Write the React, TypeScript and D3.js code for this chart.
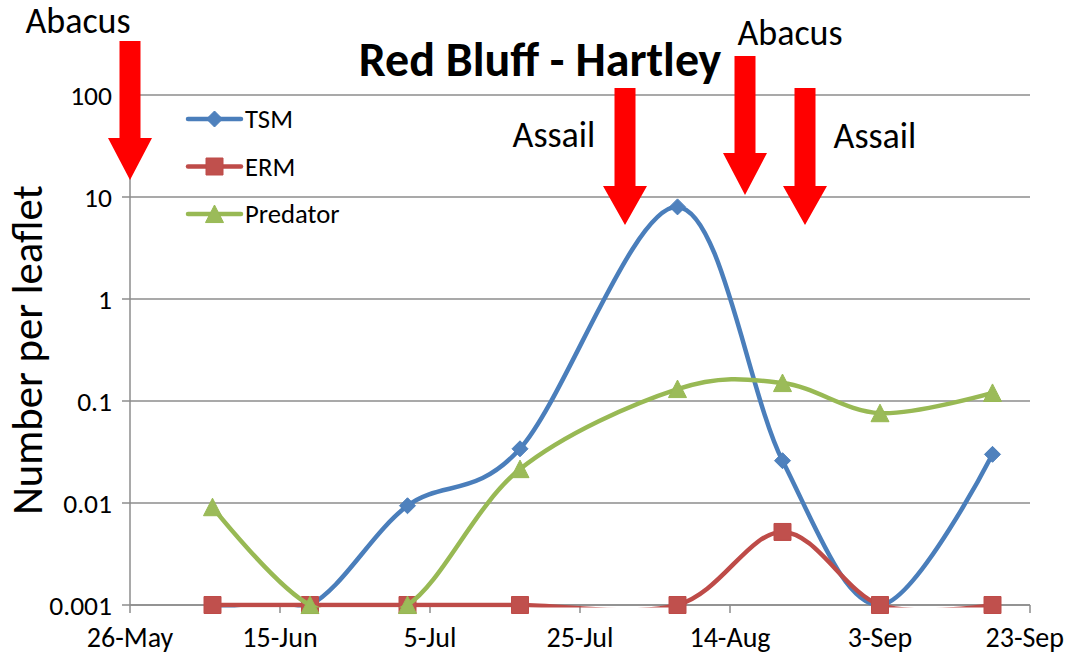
import React from "react";
import * as d3 from "d3";

const sampleDates = ["2012-06-06", "2012-06-19", "2012-07-02", "2012-07-17", "2012-08-07", "2012-08-21", "2012-09-03", "2012-09-18"];
const tsmValues = [0.001, 0.001, 0.0094, 0.034, 8.0, 0.026, 0.001, 0.030];
const ermValues = [0.001, 0.001, 0.001, 0.001, 0.001, 0.0052, 0.001, 0.001];
const predatorValues = [0.0091, 0.001, 0.001, 0.0215, 0.131, 0.15, 0.076, 0.12];
const xTickLabels = ["26-May", "15-Jun", "5-Jul", "25-Jul", "14-Aug", "3-Sep", "23-Sep"];
const xTickDates = ["2012-05-26", "2012-06-15", "2012-07-05", "2012-07-25", "2012-08-14", "2012-09-03", "2012-09-23"];
const yTickValues = [0.001, 0.01, 0.1, 1, 10, 100];
const yTickLabels = ["0.001", "0.01", "0.1", "1", "10", "100"];
const sprayLabels = ["Abacus", "Assail", "Abacus", "Assail"];
const sprayDates = ["2012-05-26", "2012-07-31", "2012-08-16", "2012-08-24"];

const W = 1066, H = 656;
const FONT = "Carlito, Calibri, Lato, sans-serif";

const series = [
  { name: "TSM", values: tsmValues, line: "#4A7EBB", fill: "#4F81BD", marker: "diamond" },
  { name: "ERM", values: ermValues, line: "#BE4B48", fill: "#C0504D", marker: "square" },
  { name: "Predator", values: predatorValues, line: "#98B954", fill: "#9BBB59", marker: "triangle" },
];

// arrow geometry (pixels): shaft top, head start, tip, and label placement
const arrowGeom = [
  { top: 41, head: 138, tip: 180, lx: 78, ly: 33 },
  { top: 88, head: 186, tip: 225, lx: 554, ly: 147 },
  { top: 56, head: 153, tip: 195, lx: 790, ly: 45 },
  { top: 88, head: 186, tip: 225, lx: 875, ly: 148 },
];

function markerPath(kind: string, cx: number, cy: number) {
  if (kind === "diamond") {
    const r = 8;
    return `M${cx},${cy - r}L${cx + r},${cy}L${cx},${cy + r}L${cx - r},${cy}Z`;
  }
  if (kind === "square") {
    const r = 8.5;
    return `M${cx - r},${cy - r}h${2 * r}v${2 * r}h${-2 * r}Z`;
  }
  const s = 9;
  return `M${cx},${cy - s}L${cx + s},${cy + s * 0.95}L${cx - s},${cy + s * 0.95}Z`;
}

export default function App() {
  const parse = d3.utcParse("%Y-%m-%d");
  const x = d3.scaleUtc().domain([parse("2012-05-26")!, parse("2012-09-23")!]).range([130, 1030]);
  const y = d3.scaleLog().domain([0.001, 100]).range([605, 95]);
  const line = d3
    .line<[number, number]>()
    .x((d) => d[0])
    .y((d) => d[1])
    .curve(d3.curveCardinal.tension(0));

  return (
    <svg width={W} height={H} style={{ position: "absolute", left: 0, top: 0, background: "#fff" }} fontFamily={FONT}>
      <defs>
        <clipPath id="plotClip">
          <rect x={0} y={0} width={W} height={607.5} />
        </clipPath>
      </defs>
      <rect width={W} height={H} fill="#fff" />
      {yTickValues.map((v) => (
        <line key={v} x1={130} x2={1030} y1={y(v)} y2={y(v)} stroke="#8C8C8C" strokeWidth={1.5} />
      ))}
      <line x1={130} x2={130} y1={95} y2={605} stroke="#8C8C8C" strokeWidth={1.5} />
      {yTickValues.map((v, i) => (
        <g key={"yt" + v}>
          <line x1={122} x2={130} y1={y(v)} y2={y(v)} stroke="#8C8C8C" strokeWidth={1.5} />
          <text x={112} y={y(v)} dy="0.35em" textAnchor="end" fontSize={27.5} fill="#000">
            {yTickLabels[i]}
          </text>
        </g>
      ))}
      <line x1={130} x2={1030} y1={605} y2={605} stroke="#8C8C8C" strokeWidth={1.5} />
      {xTickDates.map((d, i) => {
        const px = x(parse(d)!);
        const last = i === xTickDates.length - 1;
        return (
          <g key={d}>
            <line x1={px} x2={px} y1={605} y2={613} stroke="#8C8C8C" strokeWidth={1.5} />
            <text x={last ? 1064 : px} y={647} textAnchor={last ? "end" : "middle"} fontSize={28} fill="#000">
              {xTickLabels[i]}
            </text>
          </g>
        );
      })}
      <text transform="translate(42,350) rotate(-90)" textAnchor="middle" fontSize={42.7} fill="#000">
        Number per leaflet
      </text>
      {series.map((s) => {
        const pts: [number, number][] = s.values.map((v, i) => [x(parse(sampleDates[i])!), y(v)]);
        return (
          <g key={s.name}>
            <path d={line(pts) || ""} fill="none" stroke={s.line} strokeWidth={4.5} strokeLinecap="round" strokeLinejoin="round" clipPath="url(#plotClip)" />
            {pts.map((p, i) => (
              <path key={i} d={markerPath(s.marker, p[0], p[1])} fill={s.fill} stroke={s.line} strokeWidth={1} />
            ))}
          </g>
        );
      })}
      {series.map((s, i) => {
        const ly = 119 + i * 47.5;
        return (
          <g key={"lg" + s.name}>
            <line x1={188} x2={241} y1={ly} y2={ly} stroke={s.line} strokeWidth={4.5} strokeLinecap="round" />
            <path d={markerPath(s.marker, 214.5, ly)} fill={s.fill} stroke={s.line} strokeWidth={1} />
            <text x={245} y={ly} dy="0.35em" fontSize={26.7} fill="#000">
              {s.name}
            </text>
          </g>
        );
      })}
      <text x={540} y={76} textAnchor="middle" fontSize={48} fontWeight="bold" fill="#000">
        Red Bluff - Hartley
      </text>
      {sprayDates.map((d, i) => {
        const cx = x(parse(d)!);
        const g = arrowGeom[i];
        const sw = 10.5, hw = 22;
        const p = `M${cx - sw},${g.top}H${cx + sw}V${g.head}H${cx + hw}L${cx},${g.tip}L${cx - hw},${g.head}H${cx - sw}Z`;
        return (
          <g key={"ar" + i}>
            <path d={p} fill="#FF0000" />
            <text x={g.lx} y={g.ly} textAnchor="middle" fontSize={36} fill="#000">
              {sprayLabels[i]}
            </text>
          </g>
        );
      })}
    </svg>
  );
}
